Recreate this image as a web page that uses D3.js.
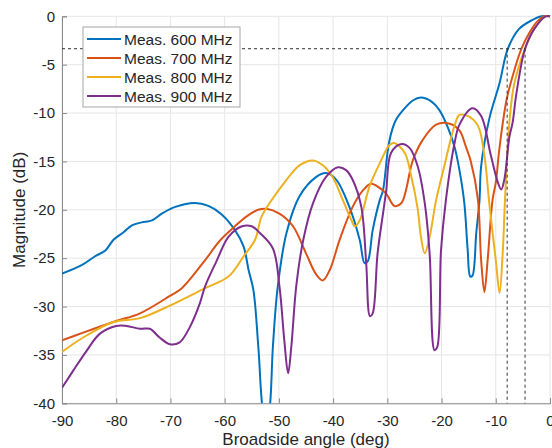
<!DOCTYPE html>
<html>
<head>
<meta charset="utf-8">
<script src="https://cdn.jsdelivr.net/npm/d3@7"></script>
<style>
  body { margin: 0; background: #fff; }
  text { font-family: "Liberation Sans", Arial, sans-serif; fill: #262626; }
</style>
</head>
<body>
<svg id="chart" width="552" height="448"></svg>
<script>
// series names and colours
var names = ['Meas. 600 MHz', 'Meas. 700 MHz', 'Meas. 800 MHz', 'Meas. 900 MHz'];
var colors = ['#0072BD', '#D95319', '#EDB120', '#7E2F8E'];

// 600 MHz
var ang600 = [-90, -86.3, -83.9, -82, -80.5, -78.6, -77.1, -75.3, -73.4, -71.6, -69.1, -65.5, -63, -60.5, -58.1, -56.5, -55.6, -54.7, -53.8, -52.9, -52.3, -51.7, -51.1, -50.2, -48.6, -46.2, -43.1, -41.3, -39.4, -37, -35.1, -34.2, -33.6, -32.7, -31.4, -30.8, -29.9, -29.3, -28.4, -27.1, -25.3, -23.8, -21.9, -20.4, -18.9, -17.6, -16.7, -15.8, -15.2, -14.7, -14.3, -13.6, -13, -12.7, -11.2, -9.3, -7.8, -5.7, -3.3, -1.6, 0];
var mag600 = [-26.6, -25.7, -24.8, -24.2, -23.1, -22.3, -21.6, -21.3, -21.1, -20.4, -19.7, -19.3, -19.6, -20.5, -22.1, -23.8, -26.2, -28.3, -34.1, -41, -42, -40.5, -34.1, -27.9, -22.4, -18.6, -16.6, -16.2, -16.9, -19.7, -23.1, -25.5, -25.3, -22.1, -19.0, -18.0, -13.8, -12.1, -10.7, -9.7, -8.7, -8.4, -8.8, -9.7, -11.4, -13.5, -15.9, -19.3, -24.0, -26.9, -26.8, -22.4, -19.0, -15.5, -10.6, -6.9, -3.4, -1.3, -0.4, 0, 0];

// 700 MHz
var ang700 = [-90, -86.1, -80, -75.6, -70.1, -67.9, -63.6, -60.9, -58.1, -56, -53.8, -52.3, -49.9, -47.4, -45, -43.1, -41.9, -40.6, -38.8, -36.4, -34.5, -33, -30.8, -30, -28.7, -27.4, -25.3, -23.5, -21, -18.5, -16.7, -15.5, -14.6, -13.3, -12.7, -12.1, -11.5, -10.6, -10, -9.4, -8.7, -8, -6.9, -5.3, -3.8, -2.3, -1, 0];
var mag700 = [-33.5, -32.7, -31.5, -30.7, -28.9, -28.1, -25.2, -23.2, -21.7, -20.7, -20.0, -19.9, -20.4, -21.7, -24.5, -26.7, -27.3, -26.2, -23.1, -19.7, -18.0, -17.3, -18.0, -18.5, -19.6, -19.3, -14.9, -12.8, -11.2, -11.1, -11.8, -13.5, -15.0, -18.9, -25.2, -28.5, -25.2, -19.0, -17.2, -14.0, -11.0, -8.6, -6.2, -3.4, -1.7, -0.5, 0, 0];

// 800 MHz
var ang800 = [-90, -86.1, -80.5, -75.6, -70.1, -63.6, -59.3, -56.5, -54.4, -53.2, -51.7, -48.6, -46.2, -43.7, -41.9, -40.1, -38.2, -36.6, -36, -35.1, -33.3, -31.4, -29.6, -28.7, -26.8, -25.6, -24.4, -23.8, -23.1, -22.2, -21, -19.5, -17.6, -16.7, -15.2, -13.3, -12.1, -11.2, -10, -9.3, -8.7, -8.3, -7.5, -6.6, -4.6, -2.9, -0.8, 0];
var mag800 = [-34.7, -33.2, -31.6, -31.2, -29.9, -28.1, -26.9, -24.8, -23.1, -20.7, -19.3, -16.9, -15.4, -14.9, -15.4, -16.6, -19.0, -21.1, -21.7, -21.1, -17.6, -15.2, -13.3, -13.1, -14.1, -16.5, -19.9, -22.8, -24.5, -22.8, -19.0, -15.5, -11.3, -10.2, -10.3, -11.3, -14.4, -19.3, -25.2, -28.6, -24.2, -19.0, -11.0, -7.0, -3.35, -1.3, 0, 0];

// 900 MHz
var ang900 = [-90, -87.9, -85.5, -83, -80, -78.1, -75.6, -73.8, -72, -70.1, -68.3, -66.4, -64.6, -63.6, -61.5, -59.3, -56.8, -55, -53.5, -51.1, -49.9, -49, -48.3, -47.7, -46.8, -45.5, -43.7, -41.3, -39.1, -37.6, -36.4, -34.8, -33.9, -33.2, -32.7, -31.8, -30.8, -30.2, -29.3, -27.4, -25.9, -24.4, -23.1, -22.2, -21.3, -20.8, -20.1, -19.2, -17.6, -16.7, -14.3, -12.7, -10.9, -9.6, -9, -8.4, -7.5, -6.9, -6.2, -4.6, -2.9, -0.8, 0];
var mag900 = [-38.4, -36.6, -34.6, -32.8, -32.0, -32.0, -32.3, -32.3, -33.2, -33.9, -33.7, -32.1, -29.7, -27.9, -25.3, -22.8, -21.7, -21.7, -22.4, -24.0, -27.9, -33.5, -36.9, -34.1, -27.9, -23.1, -19.3, -16.6, -15.6, -15.9, -16.9, -19.7, -25.5, -31.0, -30.7, -24.5, -20.4, -18.0, -14.1, -13.2, -13.6, -15.5, -19.3, -24.5, -34.5, -34.2, -24.2, -19.0, -13.1, -11.2, -9.5, -10.3, -14.4, -17.2, -17.9, -16.8, -12.5, -11.0, -8.0, -3.35, -1.3, 0, 0];

// ticks and -3 dB marker
var xTicks = [-90, -80, -70, -60, -50, -40, -30, -20, -10, 0];
var yTicks = [0, -5, -10, -15, -20, -25, -30, -35, -40];
var halfPower = -3.35;
var beamEdges = [-7.9, -4.6];

var angles = [ang600, ang700, ang800, ang900];
var mags = [mag600, mag700, mag800, mag900];

var svg = d3.select('#chart');
var pLeft = 62, pRight = 550, pTop = 16.3, pBottom = 403.3;

var x = d3.scaleLinear().domain([-90, 0]).range([pLeft, pRight]);
var y = d3.scaleLinear().domain([-40, 0]).range([pBottom, pTop]);

// grid
svg.append('g').selectAll('line').data(xTicks).join('line')
    .attr('x1', d => x(d)).attr('x2', d => x(d))
    .attr('y1', pTop).attr('y2', pBottom)
    .attr('stroke', '#e6e6e6').attr('stroke-width', 1);
svg.append('g').selectAll('line').data(yTicks).join('line')
    .attr('x1', pLeft).attr('x2', pRight)
    .attr('y1', d => y(d)).attr('y2', d => y(d))
    .attr('stroke', '#e6e6e6').attr('stroke-width', 1);

// axes
var xAxis = svg.append('g')
    .attr('transform', `translate(0,${pBottom})`)
    .call(d3.axisBottom(x).tickValues(xTicks).tickSize(-5).tickPadding(8).tickFormat(d => String(d)));
var yAxis = svg.append('g')
    .attr('transform', `translate(${pLeft},0)`)
    .call(d3.axisLeft(y).tickValues(yTicks).tickSize(-5).tickPadding(7).tickFormat(d => String(d)));
[xAxis, yAxis].forEach(a => {
    a.select('.domain').attr('stroke', '#8a8a8a');
    a.selectAll('.tick line').attr('stroke', '#8a8a8a');
    a.selectAll('text').style('font-size', '15px').attr('fill', '#262626')
        .style('font-family', '"Liberation Sans", Arial, sans-serif');
});
xAxis.selectAll('text').attr('dy', '0.95em');

// axis titles
svg.append('text')
    .attr('x', (pLeft + pRight) / 2).attr('y', 445)
    .attr('text-anchor', 'middle').style('font-size', '17px')
    .text('Broadside angle (deg)');
svg.append('text')
    .attr('transform', `translate(25,${(pTop + pBottom) / 2}) rotate(-90)`)
    .attr('text-anchor', 'middle').style('font-size', '17px')
    .text('Magnitude (dB)');

// clip
svg.append('clipPath').attr('id', 'plotclip')
    .append('rect').attr('x', pLeft).attr('y', pTop - 2)
    .attr('width', pRight - pLeft + 2).attr('height', pBottom - pTop + 2);

var line = d3.line()
    .x(d => x(d[0]))
    .y(d => y(d[1]))
    .curve(d3.curveCatmullRom.alpha(0.5));

var plot = svg.append('g').attr('clip-path', 'url(#plotclip)');
angles.forEach((a, i) => {
    plot.append('path')
        .datum(d3.zip(a, mags[i]))
        .attr('d', line)
        .attr('fill', 'none')
        .attr('stroke', colors[i])
        .attr('stroke-width', 2)
        .attr('stroke-linejoin', 'round');
});

// -3 dB guide lines
svg.append('line')
    .attr('x1', pLeft).attr('x2', x(beamEdges[1]))
    .attr('y1', y(halfPower)).attr('y2', y(halfPower))
    .attr('stroke', '#333').attr('stroke-width', 1).attr('stroke-dasharray', '3,3');
svg.append('g').selectAll('line').data(beamEdges).join('line')
    .attr('x1', d => x(d)).attr('x2', d => x(d))
    .attr('y1', y(halfPower)).attr('y2', pBottom)
    .attr('stroke', '#333').attr('stroke-width', 1).attr('stroke-dasharray', '3,3');

// legend
var lg = svg.append('g');
lg.append('rect')
    .attr('x', 83).attr('y', 27).attr('width', 157).attr('height', 80)
    .attr('fill', '#fff').attr('stroke', '#a6a6a6').attr('stroke-width', 1);
names.forEach((n, i) => {
    var ly = 39 + i * 19;
    lg.append('line')
        .attr('x1', 87).attr('x2', 121).attr('y1', ly).attr('y2', ly)
        .attr('stroke', colors[i]).attr('stroke-width', 2);
    lg.append('text')
        .attr('x', 124).attr('y', ly).attr('dy', '0.36em')
        .style('font-size', '15.5px')
        .text(n);
});
</script>
</body>
</html>
